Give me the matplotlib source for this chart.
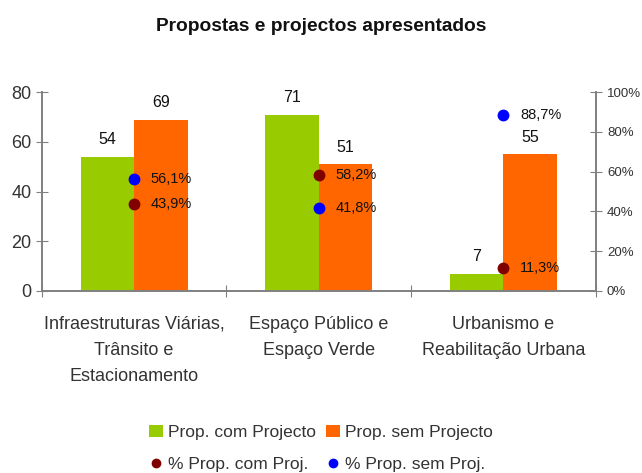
import numpy as np
import matplotlib.pyplot as plt

plt.rcParams['font.family'] = ['Liberation Sans', 'DejaVu Sans']

#Data
categories = ['Infraestruturas Viárias,\nTrânsito e\nEstacionamento',
              'Espaço Público e\nEspaço Verde',
              'Urbanismo e\nReabilitação Urbana']
com_proj = [54, 71, 7]
sem_proj = [69, 51, 55]
pct_com = [43.9, 58.2, 11.3]
pct_sem = [56.1, 41.8, 88.7]
pct_com_lbl = ['43,9%', '58,2%', '11,3%']
pct_sem_lbl = ['56,1%', '41,8%', '88,7%']

green = '#99CC00'
orange = '#FF6600'
brown = '#800000'
blue = '#0000FF'
grey = '#808080'
txt = '#333333'

fig = plt.figure(figsize=(6.42, 4.73), dpi=100)
ax = fig.add_axes([0.065, 0.385, 0.863, 0.42])
ax2 = ax.twinx()

x = np.arange(len(categories))
w = 0.29
b1 = ax.bar(x - w/2, com_proj, w, color=green, label='Prop. com Projecto', zorder=2)
b2 = ax.bar(x + w/2, sem_proj, w, color=orange, label='Prop. sem Projecto', zorder=2)

for xi, v in zip(x - w/2, com_proj):
    ax.annotate(str(v), (xi, v), xytext=(0, 7), textcoords='offset points',
                ha='center', va='bottom', fontsize=11.5, color='#111111')
for xi, v in zip(x + w/2, sem_proj):
    ax.annotate(str(v), (xi, v), xytext=(0, 7), textcoords='offset points',
                ha='center', va='bottom', fontsize=11.5, color='#111111')

d1, = ax2.plot(x, pct_com, 'o', color=brown, ms=7.5, ls='none', label='% Prop. com Proj.', zorder=3)
d2, = ax2.plot(x, pct_sem, 'o', color=blue, ms=7.5, ls='none', label='% Prop. sem Proj.', zorder=3)
for xi, v, s in zip(x, pct_com, pct_com_lbl):
    ax2.annotate(s, (xi, v), xytext=(12, 0), textcoords='offset points',
                 ha='left', va='center', fontsize=10.5, color='#111111')
for xi, v, s in zip(x, pct_sem, pct_sem_lbl):
    ax2.annotate(s, (xi, v), xytext=(12, 0), textcoords='offset points',
                 ha='left', va='center', fontsize=10.5, color='#111111')

ax.set_xlim(-0.5, 2.5)
ax.set_ylim(0, 80)
ax2.set_ylim(0, 100)
ax.set_yticks([0, 20, 40, 60, 80])
ax2.set_yticks([0, 20, 40, 60, 80, 100])
ax2.set_yticklabels(['%d%%' % t for t in [0, 20, 40, 60, 80, 100]])

ax.set_xticks([-0.5, 0.5, 1.5, 2.5])
ax.set_xticklabels([])
ax.set_xticks(x, minor=True)
ax.set_xticklabels(categories, minor=True, fontsize=13, color=txt, linespacing=1.7)
ax.tick_params(axis='x', which='minor', length=0, pad=18)
ax.tick_params(axis='x', which='major', direction='inout', length=8, color=grey)
ax.tick_params(axis='y', direction='inout', length=8, color=grey, labelsize=13, labelcolor=txt)
ax2.tick_params(axis='y', direction='inout', length=8, color=grey, labelsize=9.5, labelcolor=txt, pad=4)

for a in (ax, ax2):
    a.spines['top'].set_visible(False)
    for s in ('left', 'right', 'bottom'):
        a.spines[s].set_color(grey)
        a.spines[s].set_linewidth(1.2)

fig.text(0.5, 0.945, 'Propostas e projectos apresentados', ha='center', va='center',
         fontsize=13.8, fontweight='bold', color='#111111')

leg = fig.legend([b1, d1, b2, d2],
                 ['Prop. com Projecto', '% Prop. com Proj.', 'Prop. sem Projecto', '% Prop. sem Proj.'],
                 loc='center', bbox_to_anchor=(0.5, 0.052), ncol=2, frameon=False,
                 fontsize=12.5, handlelength=0.8, handletextpad=0.3, columnspacing=0.6,
                 labelspacing=1.0, labelcolor=txt)
leg.legend_handles[1].set_markersize(6)
leg.legend_handles[3].set_markersize(6)

plt.savefig('out.png', dpi=100)
